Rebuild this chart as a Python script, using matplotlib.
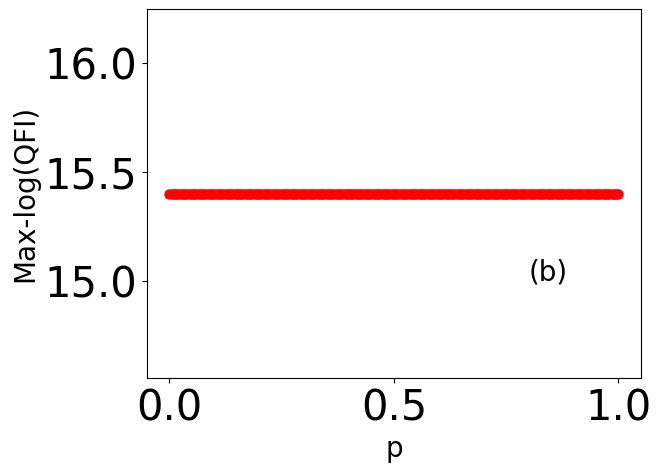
import numpy as np
import matplotlib
matplotlib.use("Agg")
import matplotlib.pyplot as plt

# grid of p values and the (constant) max log QFI
p = np.linspace(0, 1, 201)
max_log_qfi = [15.4] * len(p)

fig, ax = plt.subplots(figsize=(6.62, 4.74), dpi=100)
ax.plot(p, max_log_qfi, 'o', color='red', markersize=6.5)
ax.set_ylim(14.555, 16.248)
ax.set_xticks([0.0, 0.5, 1.0])
ax.set_yticks([15.0, 15.5, 16.0])
ax.tick_params(labelsize=30)
ax.set_xlabel('p', fontsize=20)
ax.set_ylabel('Max-log(QFI)', fontsize=20)
ax.text(0.8, 15.0, '(b)', fontsize=20)

fig.subplots_adjust(left=0.222, right=0.968, top=0.981, bottom=0.203)
fig.savefig('out.png', dpi=100)
